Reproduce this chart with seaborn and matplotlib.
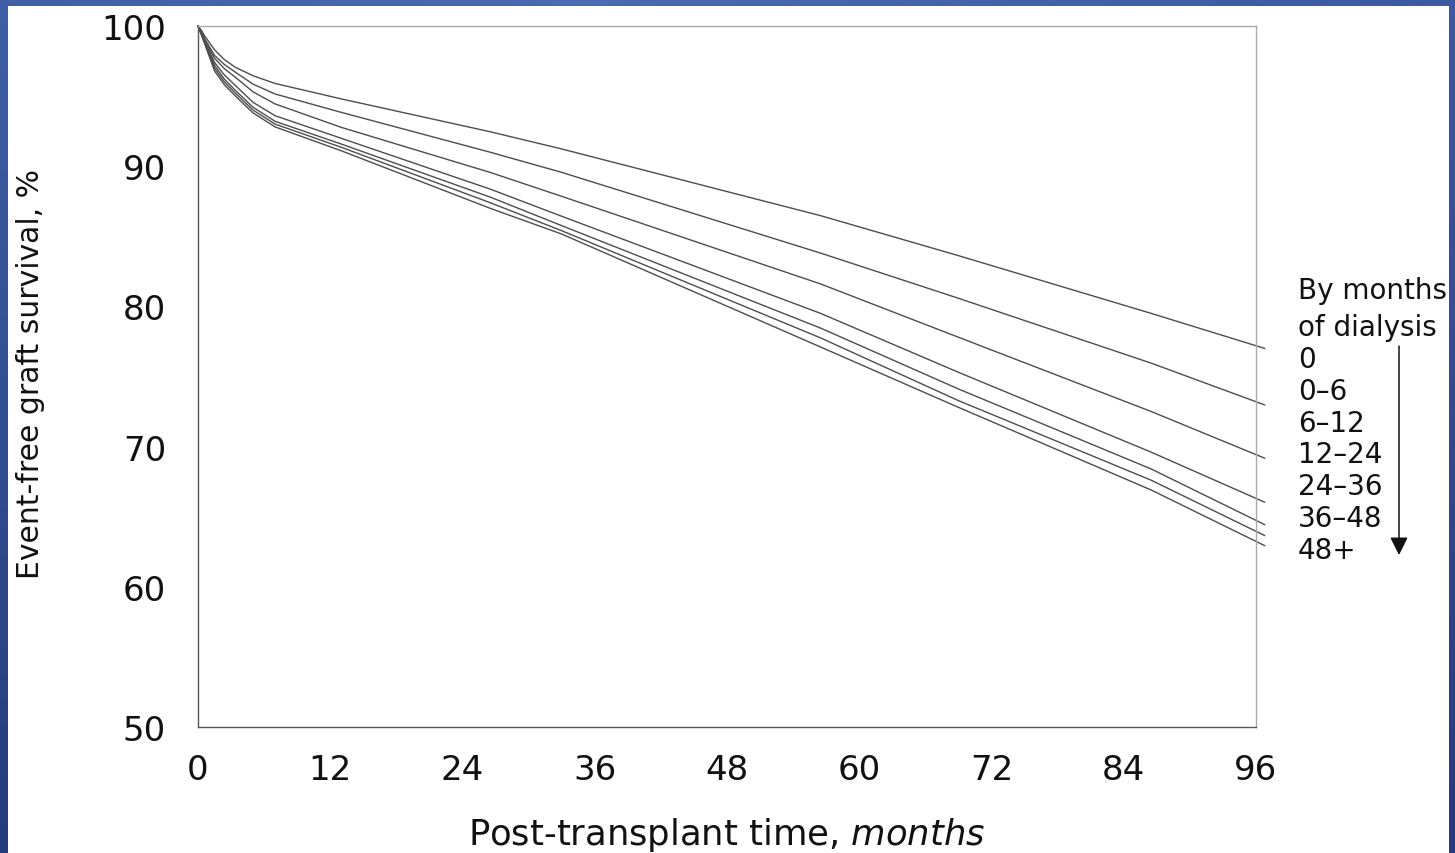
#!/usr/bin/env python
# Event-free graft survival by months of dialysis before transplant
import numpy as np
import pandas as pd
import matplotlib
matplotlib.use("Agg")
import matplotlib.pyplot as plt
from matplotlib.patches import Rectangle
import seaborn as sns

# ---------------------------------------------------------------------------
# DATA
# ---------------------------------------------------------------------------
months = [0, 0.3, 0.6, 1.5, 2.4, 3.4, 5, 7, 13, 26.5, 33, 56.5, 69, 86.5, 96.8]

surv_0 = [100, 99.7, 99.3, 98.3, 97.6, 97.05, 96.45, 95.9, 94.8, 92.46, 91.23, 86.47, 83.62, 79.5, 77.0]
surv_0_6 = [100, 99.6, 99.1, 97.9, 97.25, 96.7, 95.85, 95.15, 93.84, 91.0, 89.56, 83.8, 80.58, 75.95, 72.97]
surv_6_12 = [100, 99.55, 99.0, 97.7, 96.95, 96.34, 95.3, 94.44, 92.77, 89.56, 87.85, 81.6, 77.8, 72.5, 69.17]
surv_12_24 = [100, 99.5, 98.9, 97.4, 96.5, 95.75, 94.55, 93.6, 91.99, 88.37, 86.43, 79.5, 75.3, 69.6, 66.03]
surv_24_36 = [100, 99.45, 98.85, 97.2, 96.2, 95.4, 94.2, 93.2, 91.58, 87.8, 85.76, 78.45, 74.11, 68.4, 64.43]
surv_36_48 = [100, 99.4, 98.8, 97.0, 96.0, 95.2, 94.0, 93.0, 91.35, 87.4, 85.4, 77.75, 73.28, 67.6, 63.65]
surv_48p = [100, 99.4, 98.75, 96.8, 95.8, 95.0, 93.8, 92.8, 91.1, 87.0, 85.16, 77.1, 72.8, 66.9, 62.93]

groups = ["0", "0\u20136", "6\u201312", "12\u201324", "24\u201336", "36\u201348", "48+"]
series = [surv_0, surv_0_6, surv_6_12, surv_12_24, surv_24_36, surv_36_48, surv_48p]

x_ticks = [0, 12, 24, 36, 48, 60, 72, 84, 96]
y_ticks = [50, 60, 70, 80, 90, 100]

rows = []
for g, vals in zip(groups, series):
    for m, v in zip(months, vals):
        rows.append({"month": m, "survival": v, "group": g})
df = pd.DataFrame(rows)

# ---------------------------------------------------------------------------
# STYLE
# ---------------------------------------------------------------------------
sns.set_theme(style="white")
plt.rcParams["font.family"] = ["DejaVu Sans"]
plt.rcParams["mathtext.fontset"] = "custom"
plt.rcParams["mathtext.it"] = "DejaVu Sans:italic"
plt.rcParams["mathtext.rm"] = "DejaVu Sans"

W, H = 1455, 854
fig = plt.figure(figsize=(W / 100, H / 100), dpi=100)
fig.patch.set_facecolor("white")

# blue slide frame behind the chart (lighter at the top, darker lower left)
bg = fig.add_axes([0, 0, 1, 1], zorder=-10)
gx, gy = np.meshgrid(np.linspace(0, 1, 300), np.linspace(1, 0, 200))
w = np.clip(0.15 + 0.8 * gy * (1 - 0.6 * np.abs(gx - 0.4)), 0, 1)
dark = np.array([0x1d, 0x33, 0x72]) / 255
light = np.array([0x4c, 0x6d, 0xb6]) / 255
img = dark[None, None, :] * (1 - w[..., None]) + light[None, None, :] * w[..., None]
bg.imshow(img, aspect="auto", extent=[0, 1, 0, 1])
bg.add_patch(Rectangle((8 / W, 0), (1449 - 8) / W, (H - 7) / H,
                       facecolor="white", edgecolor="none"))
bg.set_xlim(0, 1)
bg.set_ylim(0, 1)
bg.axis("off")

ax = fig.add_axes([198 / W, 1 - 728 / H, (1256 - 198) / W, (728 - 27) / H])
ax.set_facecolor("none")

sns.lineplot(data=df, x="month", y="survival", hue="group", hue_order=groups,
             palette=["#4d4d4d"] * len(groups), estimator=None, sort=False,
             linewidth=1.0, legend=False, ax=ax)
for ln in ax.lines:
    ln.set_clip_on(False)

ax.set_xlim(0, 96)
ax.set_ylim(50, 100)
ax.set_xticks(x_ticks)
ax.set_yticks(y_ticks)
ax.tick_params(axis="both", which="both", direction="out", length=3, width=2,
               color="#222222", labelsize=24.5, labelcolor="#111111")
ax.tick_params(axis="y", pad=20)
ax.tick_params(axis="x", pad=16)

for side in ["left", "bottom"]:
    ax.spines[side].set_color("#555555")
    ax.spines[side].set_linewidth(1.0)
for side in ["top", "right"]:
    ax.spines[side].set_color("#aaaaaa")
    ax.spines[side].set_linewidth(1.0)

ax.set_xlabel("Post-transplant time, $\\it{months}$", fontsize=25.5, color="#111111")
ax.xaxis.set_label_coords(0.5, -0.125)
ax.set_ylabel("Event-free graft survival, %", fontsize=21.5, color="#111111")
ax.yaxis.set_label_coords(-0.145, 0.505)

# legend-like annotation on the right
fig.text(1298 / W, 1 - 291 / H, "By months", fontsize=20, va="center", ha="left", color="#111111")
fig.text(1298 / W, 1 - 328 / H, "of dialysis", fontsize=20, va="center", ha="left", color="#111111")
for i, g in enumerate(groups):
    fig.text(1298 / W, 1 - (360 + 31.8 * i) / H, g, fontsize=20, va="center",
             ha="left", color="#111111")
ax.annotate("", xy=(1399 / W, 1 - 556 / H), xytext=(1399 / W, 1 - 347 / H),
            xycoords="figure fraction", textcoords="figure fraction",
            arrowprops=dict(arrowstyle="-|>,head_length=0.9,head_width=0.45",
                            color="#111111", lw=1.1, shrinkA=0, shrinkB=0))

plt.savefig("out.png", dpi=100)
